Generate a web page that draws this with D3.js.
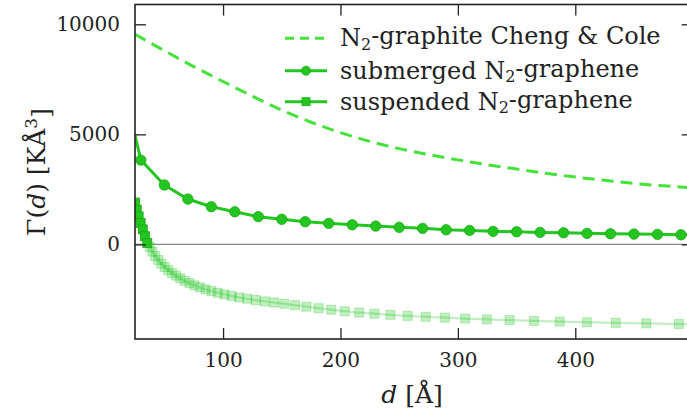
<!DOCTYPE html>
<html>
<head>
<meta charset="utf-8">
<script src="https://cdn.jsdelivr.net/npm/d3@7"></script>
<style>
  body { margin: 0; background: #fff; }
  svg text { font-family: 'DejaVu Serif', serif; fill: #222; }
</style>
</head>
<body>
<svg id="chart" width="687" height="416"></svg>
<script>
// N2-graphite reference curve (Cheng & Cole)
const graphite_d = [25, 50, 75, 100, 125, 150, 175, 200, 225, 250, 275, 300, 325, 350, 375, 400, 425, 450, 475, 500];
const graphite_v = [9550, 8800, 8080, 7400, 6730, 6100, 5550, 5080, 4680, 4350, 4080, 3840, 3620, 3420, 3230, 3060, 2910, 2770, 2660, 2570];

// submerged N2-graphene (markers every 20 A from 30 to 490)
const submerged_d = [25, 30, 50, 70, 90, 110, 130, 150, 170, 190, 210, 230, 250, 270, 290, 310, 330, 350, 370, 390, 410, 430, 450, 470, 490, 510];
const submerged_v = [4950, 3830, 2700, 2060, 1710, 1480, 1260, 1140, 1030, 955, 890, 832, 775, 727, 665, 636, 592, 573, 545, 527, 500, 482, 468, 455, 436, 425];

// suspended N2-graphene
const suspended_d = [25.0, 26.5, 28.1, 29.8, 31.6, 33.5, 35.5, 37.6, 39.8, 42.2, 44.8, 47.5, 50.3, 53.3, 56.5, 59.9, 63.5, 67.3, 71.4, 75.6,
  80.2, 85.0, 90.1, 95.5, 101.2, 107.3, 113.7, 120.6, 127.8, 135.5, 143.6, 152.2, 161.3, 171.0, 181.3, 192.2, 203.7, 215.9, 228.9, 242.6,
  257.2, 272.6, 288.9, 306.3, 324.7, 344.1, 364.8, 386.7, 409.9, 434.5, 460.5, 488.2, 517.5];
const suspended_v = [1900, 1580, 1270, 970, 680, 370, 60, -120, -330, -530, -710, -880, -1030, -1170, -1300, -1420, -1540, -1650, -1760, -1860,
  -1950, -2040, -2120, -2200, -2270, -2340, -2410, -2470, -2530, -2590, -2640, -2700, -2760, -2830, -2900, -2970, -3040, -3100, -3150, -3200,
  -3250, -3290, -3330, -3370, -3410, -3440, -3480, -3510, -3540, -3565, -3590, -3620, -3645];

const x_ticks = [100, 200, 300, 400];
const y_ticks = [0, 5000, 10000];
const legend_labels = [
  ['N', '2', '-graphite Cheng & Cole'],
  ['submerged N', '2', '-graphene'],
  ['suspended N', '2', '-graphene']
];

const dashed_color = '#45e23a';
const dark_green = '#22c61f';
const light_alpha = 0.28;

const svg = d3.select('#chart');
const plot_left = 135, plot_right = 692.7, plot_top = 4.5, plot_bottom = 339;

const x_scale = d3.scaleLinear().domain([25, 500]).range([plot_left, plot_right]);
const y_scale = d3.scaleLinear().domain([-4300, 10900]).range([plot_bottom, plot_top]);

svg.append('defs').append('clipPath').attr('id', 'plot-clip')
  .append('rect')
  .attr('x', plot_left).attr('y', plot_top)
  .attr('width', plot_right - plot_left).attr('height', plot_bottom - plot_top);

const zip = (xs, ys) => xs.map((d, i) => ({ d: d, v: ys[i] }));
const graphite = zip(graphite_d, graphite_v);
const submerged = zip(submerged_d, submerged_v);
const suspended = zip(suspended_d, suspended_v);

const line = d3.line()
  .x(p => x_scale(p.d))
  .y(p => y_scale(p.v));
const smooth_line = d3.line()
  .x(p => x_scale(p.d))
  .y(p => y_scale(p.v))
  .curve(d3.curveMonotoneX);

const plot = svg.append('g').attr('clip-path', 'url(#plot-clip)');

// zero line
plot.append('line')
  .attr('x1', plot_left).attr('x2', plot_right)
  .attr('y1', y_scale(0)).attr('y2', y_scale(0))
  .attr('stroke', '#8a8a8a').attr('stroke-width', 1.3);

// suspended: faded part below zero
plot.append('path')
  .datum(suspended)
  .attr('fill', 'none')
  .attr('stroke', dark_green)
  .attr('stroke-opacity', light_alpha)
  .attr('stroke-width', 2.2)
  .attr('d', line);
plot.selectAll('.sq-light')
  .data(suspended.filter(p => p.v < 0))
  .enter().append('rect')
  .attr('class', 'sq-light')
  .attr('x', p => x_scale(p.d) - 4.5)
  .attr('y', p => y_scale(p.v) - 4.5)
  .attr('width', 9).attr('height', 9)
  .attr('fill', dark_green)
  .attr('fill-opacity', light_alpha)
  .attr('stroke', dark_green)
  .attr('stroke-opacity', light_alpha);

// suspended: solid part above zero
const suspended_pos = suspended.filter(p => p.v >= 0);
plot.append('path')
  .datum(suspended_pos)
  .attr('fill', 'none')
  .attr('stroke', dark_green)
  .attr('stroke-width', 2.5)
  .attr('d', line);
plot.selectAll('.sq-dark')
  .data(suspended_pos)
  .enter().append('rect')
  .attr('class', 'sq-dark')
  .attr('x', p => x_scale(p.d) - 4.5)
  .attr('y', p => y_scale(p.v) - 4.5)
  .attr('width', 9).attr('height', 9)
  .attr('fill', dark_green)
  .attr('stroke', '#1ea81b')
  .attr('stroke-width', 0.8);

// graphite dashed
plot.append('path')
  .datum(graphite)
  .attr('fill', 'none')
  .attr('stroke', dashed_color)
  .attr('stroke-width', 3)
  .attr('stroke-dasharray', '12,7')
  .attr('d', smooth_line);

// submerged
plot.append('path')
  .datum(submerged)
  .attr('fill', 'none')
  .attr('stroke', dark_green)
  .attr('stroke-width', 3)
  .attr('d', line);
plot.selectAll('.dot')
  .data(submerged.filter(p => p.d >= 30 && p.d <= 490))
  .enter().append('circle')
  .attr('class', 'dot')
  .attr('cx', p => x_scale(p.d))
  .attr('cy', p => y_scale(p.v))
  .attr('r', 5.2)
  .attr('fill', dark_green)
  .attr('stroke', '#1ea81b')
  .attr('stroke-width', 0.8);

// axes: ticks inward on all four sides
const x_axis = svg.append('g')
  .attr('transform', 'translate(0,' + plot_bottom + ')')
  .call(d3.axisBottom(x_scale).tickValues(x_ticks).tickSize(-11).tickPadding(14));
const x_top = svg.append('g')
  .attr('transform', 'translate(0,' + plot_top + ')')
  .call(d3.axisTop(x_scale).tickValues(x_ticks).tickSize(-11).tickFormat(''));
const y_axis = svg.append('g')
  .attr('transform', 'translate(' + plot_left + ',0)')
  .call(d3.axisLeft(y_scale).tickValues(y_ticks).tickSize(-11).tickPadding(15).tickFormat(d3.format('d')));
const y_right = svg.append('g')
  .attr('transform', 'translate(' + plot_right + ',0)')
  .call(d3.axisRight(y_scale).tickValues(y_ticks).tickSize(-11).tickFormat(''));

for (const g of [x_axis, x_top, y_axis, y_right]) {
  g.select('.domain').remove();
  g.selectAll('.tick line').attr('stroke', '#222').attr('stroke-width', 1.3);
  g.selectAll('.tick text')
    .style('font-family', "'DejaVu Serif', serif")
    .style('font-size', '20px')
    .attr('fill', '#222');
}

// frame
svg.append('rect')
  .attr('x', plot_left).attr('y', plot_top)
  .attr('width', plot_right - plot_left).attr('height', plot_bottom - plot_top)
  .attr('fill', 'none')
  .attr('stroke', '#222')
  .attr('stroke-width', 1.6);

// axis titles
const x_title = svg.append('text')
  .attr('x', 412).attr('y', 403)
  .attr('text-anchor', 'middle')
  .style('font-size', '25px');
x_title.append('tspan').attr('font-style', 'italic').text('d');
x_title.append('tspan').text(' [Å]');

const y_title = svg.append('text')
  .attr('transform', 'translate(45,172) rotate(-90)')
  .attr('text-anchor', 'middle')
  .style('font-size', '25px');
y_title.append('tspan').text('Γ(');
y_title.append('tspan').attr('font-style', 'italic').text('d');
y_title.append('tspan').text(') [KÅ');
y_title.append('tspan').attr('dy', '-0.45em').style('font-size', '17px').text('3');
y_title.append('tspan').attr('dy', '0.45em').text(']');

// legend
const legend_y = [38.3, 70.7, 101.7];
const legend = svg.append('g');
legend.append('line')
  .attr('x1', 285).attr('x2', 327).attr('y1', legend_y[0]).attr('y2', legend_y[0])
  .attr('stroke', dashed_color).attr('stroke-width', 3).attr('stroke-dasharray', '9,6');
legend.append('line')
  .attr('x1', 285).attr('x2', 327).attr('y1', legend_y[1]).attr('y2', legend_y[1])
  .attr('stroke', dark_green).attr('stroke-width', 3);
legend.append('circle')
  .attr('cx', 306).attr('cy', legend_y[1]).attr('r', 4.5)
  .attr('fill', dark_green).attr('stroke', '#1ea81b').attr('stroke-width', 0.8);
legend.append('line')
  .attr('x1', 285).attr('x2', 327).attr('y1', legend_y[2]).attr('y2', legend_y[2])
  .attr('stroke', dark_green).attr('stroke-width', 3);
legend.append('rect')
  .attr('x', 302).attr('y', legend_y[2] - 4).attr('width', 8).attr('height', 8)
  .attr('fill', dark_green).attr('stroke', '#1ea81b').attr('stroke-width', 0.8);

legend_labels.forEach((parts, i) => {
  const t = legend.append('text')
    .attr('x', 340).attr('y', legend_y[i] + 7.8)
    .style('font-size', '24px');
  t.append('tspan').text(parts[0]);
  t.append('tspan').attr('dy', '0.22em').style('font-size', '16px').text(parts[1]);
  t.append('tspan').attr('dy', '-0.22em').text(parts[2]);
});
</script>
</body>
</html>
